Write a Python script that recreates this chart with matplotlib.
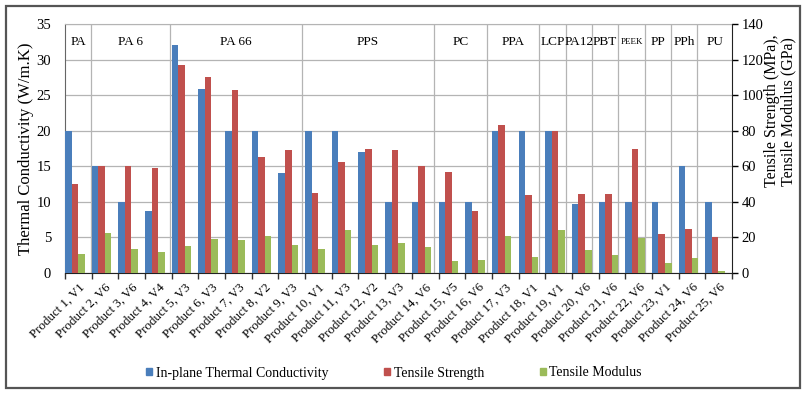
import matplotlib
matplotlib.use("Agg")
import matplotlib.pyplot as plt
import numpy as np
from matplotlib.patches import Rectangle, Patch

products = ["Product 1, V1", "Product 2, V6", "Product 3, V6", "Product 4, V4", "Product 5, V3",
            "Product 6, V3", "Product 7, V3", "Product 8, V2", "Product 9, V3", "Product 10, V1",
            "Product 11, V3", "Product 12, V2", "Product 13, V3", "Product 14, V6", "Product 15, V5",
            "Product 16, V6", "Product 17, V3", "Product 18, V1", "Product 19, V1", "Product 20, V6",
            "Product 21, V6", "Product 22, V6", "Product 23, V1", "Product 24, V6", "Product 25, V6"]
conductivity = [20, 15, 10, 8.7, 32, 25.9, 20, 20, 14, 20, 20, 17, 10, 10, 10, 10, 20, 20, 20,
                9.7, 10, 10, 10, 15, 10]
tensile_strength = [50, 60, 60, 59, 117, 110, 103, 65, 69, 45, 62.5, 70, 69, 60, 57, 35, 83, 44,
                    80, 44.5, 44.5, 70, 22, 24.5, 20]
tensile_modulus = [10.5, 22.3, 13.3, 12, 15.2, 18.9, 18.6, 20.8, 15.7, 13.3, 24.2, 15.7, 17,
                   14.5, 6.5, 7.1, 20.6, 9, 23.9, 12.7, 9.9, 19.8, 5.8, 8.4, 1]
groups = ["PA", "PA 6", "PA 66", "PPS", "PC", "PPA", "LCP", "PA12", "PBT", "PEEK", "PP", "PPh", "PU"]
group_sizes = [1, 3, 5, 5, 2, 2, 1, 1, 1, 1, 1, 1, 1]

BLUE, RED, GREEN = "#4A7EBB", "#C0504D", "#9BBB59"
GRID = "#B4B4B4"
SERIF = "Liberation Serif"
plt.rcParams["font.family"] = SERIF

W, H = 808, 394
fig = plt.figure(figsize=(W / 100, H / 100), dpi=100)
L, R, T, B = 65, 732, 24, 273
ax = fig.add_axes([L / W, (H - B) / H, (R - L) / W, (B - T) / H])
ax2 = ax.twinx()

n = len(products)
x = np.arange(n)
bw = 0.245
ax.bar(x - 0.5, conductivity, width=bw, align="edge", color=BLUE, zorder=3)
ax2.bar(x - 0.5 + bw, tensile_strength, width=bw, align="edge", color=RED, zorder=3)
ax2.bar(x - 0.5 + 2 * bw, tensile_modulus, width=bw, align="edge", color=GREEN, zorder=3)

ax.set_xlim(-0.5, n - 0.5)
ax.set_ylim(0, 35)
ax2.set_ylim(0, 140)
ax.set_yticks(np.arange(0, 36, 5))
ax2.set_yticks(np.arange(0, 141, 20))
ax.yaxis.grid(True, color=GRID, lw=0.9, zorder=0)
ax.set_axisbelow(True)

# group separators
scale = 0.9876
bounds = np.concatenate([[0], np.cumsum(group_sizes)])
line_pos = [-0.5 + b * scale for b in bounds[1:-1]]
for lp in line_pos:
    ax.axvline(lp, color=GRID, lw=0.9, zorder=1)
edges = [-0.5] + line_pos + [n - 0.5]
for g, a, b in zip(groups, edges[:-1], edges[1:]):
    fs = 6.5 if g == "PEEK" else 9.5
    ax.text((a + b) / 2, 32.4, g, ha="center", va="center", fontsize=fs)

# ticks
ax.set_xticks(x)
ax.set_xticklabels(products, rotation=45, ha="right", rotation_mode="anchor", fontsize=9.3)
ax.tick_params(axis="x", which="major", length=0, pad=6)
ax.set_xticks(np.arange(-0.5, n, 1), minor=True)
ax.tick_params(axis="x", which="minor", length=4, width=1, color="#333333")
ax.tick_params(axis="y", length=0, labelsize=10.5, pad=10)
ax2.tick_params(axis="y", length=4, width=1, labelsize=10.5, pad=3)

ax.spines["top"].set_color(GRID)
ax2.spines["top"].set_visible(False)
ax.spines["right"].set_visible(False)
ax.spines["left"].set_color("#666666")
ax2.spines["left"].set_visible(False)
ax2.spines["right"].set_color("#222222")
ax2.spines["bottom"].set_visible(False)
ax.spines["bottom"].set_color("#222222")

ax.set_ylabel("Thermal Conductivity (W/m.K)", fontsize=12)
ax.yaxis.set_label_coords(-0.046, 0.5)
ax2.set_ylabel("Tensile Strength (MPa),\nTensile Modulus (GPa)", fontsize=11.5, linespacing=1.0)
ax2.yaxis.set_label_coords(1.048, 0.65)

handles = [Patch(color=BLUE), Patch(color=RED), Patch(color=GREEN)]
fig.legend(handles, ["In-plane Thermal Conductivity", "Tensile Strength", "Tensile Modulus"],
           loc="center", bbox_to_anchor=(394 / W, 1 - 373 / H), ncol=3, frameon=False,
           fontsize=10, handlelength=0.45, handleheight=0.45, handletextpad=0.25,
           columnspacing=4.0)

fig.patches.append(Rectangle((6 / W, 6 / H), 794 / W, 382 / H, transform=fig.transFigure,
                             fill=False, edgecolor="#555555", lw=1.6))
fig.savefig("out.png", dpi=100)
